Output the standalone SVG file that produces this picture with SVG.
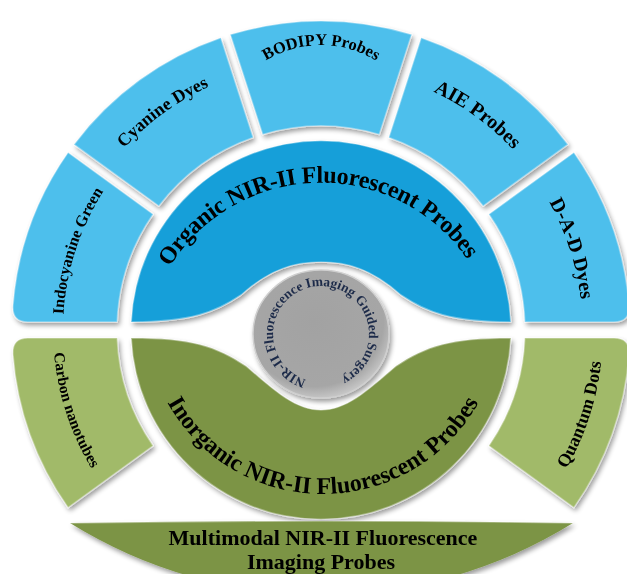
<svg xmlns="http://www.w3.org/2000/svg" xmlns:xlink="http://www.w3.org/1999/xlink" width="627" height="574" viewBox="0 0 627 574">
  <style>
    .t{font-family:"Liberation Serif","Times New Roman",serif;font-weight:bold;fill:#000}
    .core-t{font-family:"Liberation Serif","Times New Roman",serif;font-weight:bold;fill:#1e2c4a;font-size:13.5px}
    .ring-blue{fill:#4ebfec}
    .disc-blue{fill:#139fd9}
    .ring-green{fill:#a1ba69}
    .disc-green{fill:#7c9445}
    .bevel{fill:none;stroke:#ffffff;stroke-opacity:0.35;stroke-width:1.6;stroke-linejoin:round}
  </style>
  <defs>
    <filter id="shadow" x="-10%" y="-10%" width="125%" height="125%">
      <feGaussianBlur in="SourceAlpha" stdDeviation="2.5"/>
      <feOffset dx="2" dy="3" result="o"/>
      <feComponentTransfer><feFuncA type="linear" slope="0.4"/></feComponentTransfer>
      <feMerge><feMergeNode/><feMergeNode in="SourceGraphic"/></feMerge>
    </filter>
    <radialGradient id="coreFill" cx="45%" cy="40%" r="60%">
      <stop offset="0" stop-color="#a2a2a2"/>
      <stop offset="0.85" stop-color="#a6a6a6"/>
      <stop offset="1" stop-color="#c4c4c4"/>
    </radialGradient>
    <!-- baselines for the curved labels -->
    <path id="p-ind" d="M68.6,383.6 A258,258 0 0 1 148.4,138.3"/>
    <path id="p-cya" d="M76.2,221 A268,268 0 0 1 293,63.5"/>
    <path id="p-bod" d="M230.1,97.5 A105,105 0 0 1 411.9,97.5"/>
    <path id="p-aie" d="M348.5,67.9 A263.5,263.5 0 0 1 561.7,222.8"/>
    <path id="p-dad" d="M496,135.7 A261.5,261.5 0 0 1 576.8,384.4"/>
    <path id="p-car" d="M58.9,274.3 A268,268 0 0 0 141.7,529.2"/>
    <path id="p-qua" d="M509.7,539.6 A282,282 0 0 0 596.8,271.4"/>
    <path id="p-org" d="M143.1,361.7 A178,178 0 0 1 498.9,352.3"/>
    <path id="p-inorg" d="M145,316 A178,178 0 0 0 501,316"/>
    <path id="p-core" d="M321,382 A48,48 0 1 1 321,286 A48,48 0 1 1 321,382"/>
  </defs>

  <rect width="627" height="574" fill="#ffffff"/>

  <!-- outer ring, organic families -->
  <g id="indocyanine-green" filter="url(#shadow)">
    <path class="ring-blue" d="M117.2,322 L28,322 Q12.1,322 12.9,306 A309,309 0 0 1 68.1,152.4 L153.1,214.2 A204,204 0 0 0 117.2,322 Z"/>
    <path class="bevel" d="M117.2,322 L28,322 Q12.1,322 12.9,306 A309,309 0 0 1 68.1,152.4 L153.1,214.2 A204,204 0 0 0 117.2,322 Z"/>
    <text class="t" font-size="16"><textPath href="#p-ind" xlink:href="#p-ind" startOffset="50%" text-anchor="middle">Indocyanine Green</textPath></text>
  </g>
  <g id="cyanine-dyes" filter="url(#shadow)">
    <path class="ring-blue" d="M74,144.4 A309,309 0 0 1 220.8,37.7 L253.2,137.6 A204,204 0 0 0 158.9,206.1 Z"/>
    <path class="bevel" d="M74,144.4 A309,309 0 0 1 220.8,37.7 L253.2,137.6 A204,204 0 0 0 158.9,206.1 Z"/>
    <text class="t" font-size="18"><textPath href="#p-cya" xlink:href="#p-cya" startOffset="50%" text-anchor="middle">Cyanine Dyes</textPath></text>
  </g>
  <g id="bodipy-probes" filter="url(#shadow)">
    <path class="ring-blue" d="M230.3,34.6 A309,309 0 0 1 411.7,34.6 L379.3,134.5 A204,204 0 0 0 262.7,134.5 Z"/>
    <path class="bevel" d="M230.3,34.6 A309,309 0 0 1 411.7,34.6 L379.3,134.5 A204,204 0 0 0 262.7,134.5 Z"/>
    <text class="t" font-size="16.5"><textPath href="#p-bod" xlink:href="#p-bod" startOffset="50%" text-anchor="middle">BODIPY Probes</textPath></text>
  </g>
  <g id="aie-probes" filter="url(#shadow)">
    <path class="ring-blue" d="M421.2,37.7 A309,309 0 0 1 568,144.4 L483.1,206.1 A204,204 0 0 0 388.8,137.6 Z"/>
    <path class="bevel" d="M421.2,37.7 A309,309 0 0 1 568,144.4 L483.1,206.1 A204,204 0 0 0 388.8,137.6 Z"/>
    <text class="t" font-size="20"><textPath href="#p-aie" xlink:href="#p-aie" startOffset="50%" text-anchor="middle">AIE Probes</textPath></text>
  </g>
  <g id="dad-dyes" filter="url(#shadow)">
    <path class="ring-blue" d="M524.8,322 L614,322 Q629.9,322 629.1,306 A309,309 0 0 0 573.9,152.4 L488.9,214.2 A204,204 0 0 1 524.8,322 Z"/>
    <path class="bevel" d="M524.8,322 L614,322 Q629.9,322 629.1,306 A309,309 0 0 0 573.9,152.4 L488.9,214.2 A204,204 0 0 1 524.8,322 Z"/>
    <text class="t" font-size="20"><textPath href="#p-dad" xlink:href="#p-dad" startOffset="50%" text-anchor="middle">D-A-D Dyes</textPath></text>
  </g>

  <!-- outer ring, inorganic families -->
  <g id="carbon-nanotubes" filter="url(#shadow)">
    <path class="ring-green" d="M117.2,338 A204,204 0 0 0 153.1,445.8 L68.1,507.6 A309,309 0 0 1 12.9,354 Q12.1,338 28,338 Z"/>
    <path class="bevel" d="M117.2,338 A204,204 0 0 0 153.1,445.8 L68.1,507.6 A309,309 0 0 1 12.9,354 Q12.1,338 28,338 Z"/>
    <text class="t" font-size="15.5"><textPath href="#p-car" xlink:href="#p-car" startOffset="50%" text-anchor="middle">Carbon nanotubes</textPath></text>
  </g>
  <g id="quantum-dots" filter="url(#shadow)">
    <path class="ring-green" d="M524.8,338 L614,338 Q629.9,338 629.1,354 A309,309 0 0 1 573.9,507.6 L488.9,445.8 A204,204 0 0 0 524.8,338 Z"/>
    <path class="bevel" d="M524.8,338 L614,338 Q629.9,338 629.1,354 A309,309 0 0 1 573.9,507.6 L488.9,445.8 A204,204 0 0 0 524.8,338 Z"/>
    <text class="t" font-size="18"><textPath href="#p-qua" xlink:href="#p-qua" startOffset="50%" text-anchor="middle">Quantum Dots</textPath></text>
  </g>

  <!-- inner half discs -->
  <g id="organic-probes" filter="url(#shadow)">
    <path class="disc-blue" d="M131.2,322 A190,190 0 0 1 510.8,322 C451,322 426,312 401,295 C371,268 346,262 321,262 C296,262 271,268 241,295 C216,312 191,322 131.2,322 Z"/>
    <path class="bevel" d="M131.2,322 A190,190 0 0 1 510.8,322 C451,322 426,312 401,295 C371,268 346,262 321,262 C296,262 271,268 241,295 C216,312 191,322 131.2,322 Z"/>
    <text class="t" font-size="24" letter-spacing="-0.3"><textPath href="#p-org" xlink:href="#p-org" startOffset="50%" text-anchor="middle">Organic NIR-II Fluorescent Probes</textPath></text>
  </g>
  <g id="inorganic-probes" filter="url(#shadow)">
    <path class="disc-green" d="M131.2,338 A190,190 0 0 0 510.8,338 C451,338 426,346 396,366 C366,392 346,410 321,410 C296,410 276,392 246,366 C216,346 191,338 131.2,338 Z"/>
    <path class="bevel" d="M131.2,338 A190,190 0 0 0 510.8,338 C451,338 426,346 396,366 C366,392 346,410 321,410 C296,410 276,392 246,366 C216,346 191,338 131.2,338 Z"/>
    <text class="t" font-size="24"><textPath href="#p-inorg" xlink:href="#p-inorg" startOffset="50%" text-anchor="middle">Inorganic NIR-II Fluorescent Probes</textPath></text>
  </g>

  <!-- central disc -->
  <g id="guided-surgery" filter="url(#shadow)">
    <ellipse cx="321" cy="334" rx="68" ry="64" fill="url(#coreFill)" stroke="#cfcfcf" stroke-width="1.5"/>
    <text class="core-t"><textPath href="#p-core" xlink:href="#p-core" startOffset="49%" text-anchor="middle">NIR-II Fluorescence Imaging Guided Surgery</textPath></text>
  </g>

  <!-- bottom banner -->
  <g id="multimodal-probes" filter="url(#shadow)">
    <path class="disc-green" d="M70,523 Q321,519 573,523 A477,477 0 0 1 70,523 Z"/>
    <path class="bevel" d="M70,523 Q321,519 573,523"/>
    <text class="t" font-size="22" text-anchor="middle"><tspan x="323" y="544.5">Multimodal NIR-II Fluorescence</tspan><tspan x="321" y="569">Imaging Probes</tspan></text>
  </g>
</svg>
